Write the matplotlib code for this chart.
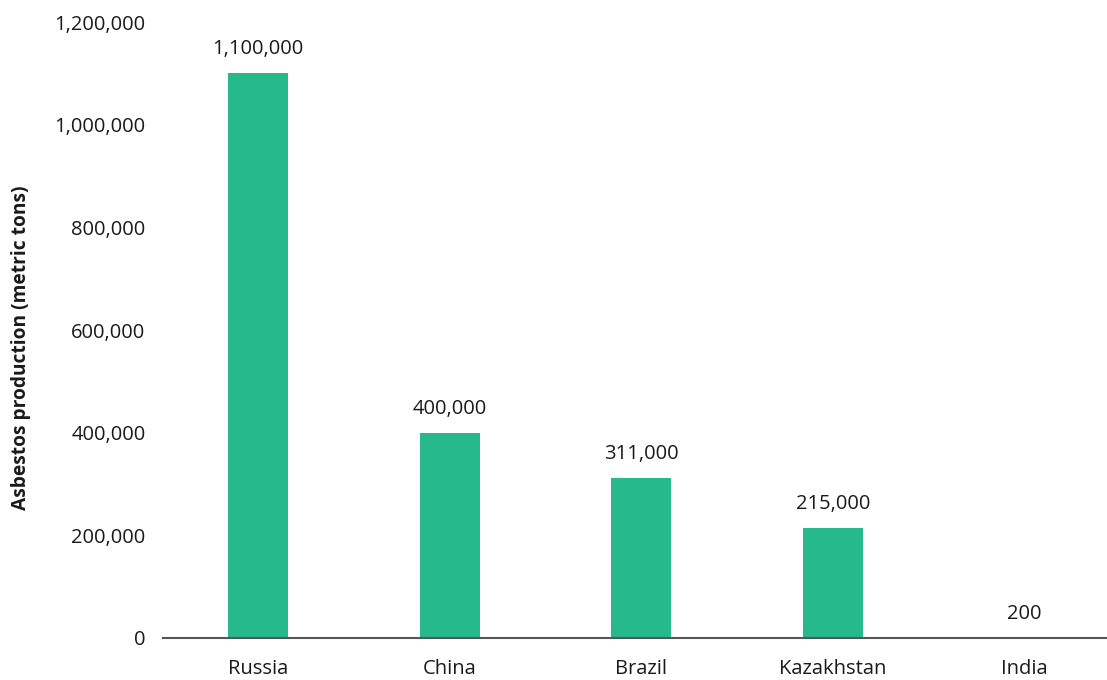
import matplotlib.pyplot as plt
from matplotlib.ticker import FuncFormatter

countries = ["Russia", "China", "Brazil", "Kazakhstan", "India"]
production = [1100000, 400000, 311000, 215000, 200]
y_ticks = [0, 200000, 400000, 600000, 800000, 1000000, 1200000]

plt.rcParams["font.family"] = ["Open Sans", "DejaVu Sans"]

fig = plt.figure(figsize=(11.07, 6.8), dpi=100)
ax = fig.add_axes([0.1472, 0.0618, 0.8528, 0.9058])

bars = ax.bar(range(len(countries)), production, width=0.313, color="#26b98a")
ax.bar_label(bars, labels=[f"{v:,}" for v in production], padding=10,
             fontsize=14.5, color="#1a1a1a")

ax.set_xlim(-0.496, 4.43)
ax.set_ylim(0, 1200000)
ax.set_yticks(y_ticks)
ax.yaxis.set_major_formatter(FuncFormatter(lambda v, p: f"{int(v):,}"))
ax.set_xticks(range(len(countries)))
ax.set_xticklabels(countries)
ax.tick_params(axis="both", length=0, labelsize=14.5, colors="#1a1a1a")
ax.tick_params(axis="y", pad=12.5)
ax.tick_params(axis="x", pad=15)

for side in ["top", "right", "left"]:
    ax.spines[side].set_visible(False)
ax.spines["bottom"].set_color("#555555")
ax.spines["bottom"].set_linewidth(1.5)

ax.set_ylabel("Asbestos production (metric tons)", fontsize=13.8,
              fontweight="bold", color="#1a1a1a")
ax.yaxis.set_label_coords(-0.14, 0.471)

fig.savefig("out.png", dpi=100)
